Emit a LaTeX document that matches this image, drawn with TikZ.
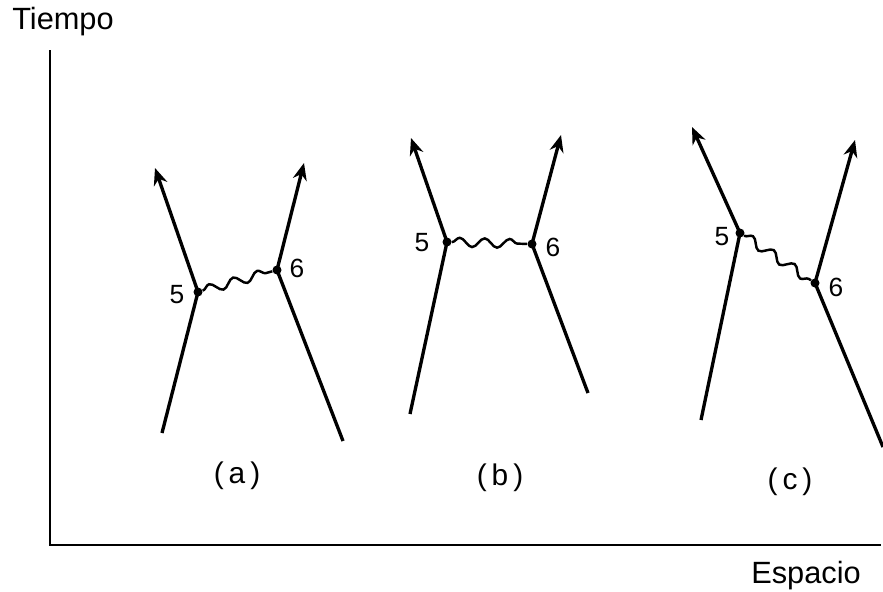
\documentclass[tikz,border=0pt]{standalone}
\usepackage{fontspec}
\setmainfont{Liberation Sans}
\usetikzlibrary{arrows.meta,decorations.pathmorphing}
\tikzset{
  axis/.style={line width=1.6pt},
  worldline/.style={line width=1.9pt},
  photon/.style={line width=1.4pt, decorate,
    decoration={snake, segment length=0.5cm, amplitude=0.09cm}},
  vertex/.style={circle, fill, inner sep=0pt, minimum size=0.18cm},
  num/.style={font=\fontsize{15}{17}\selectfont},
  caption/.style={font=\fontsize{17}{19}\selectfont}
}
\begin{document}
\begin{tikzpicture}[x=0.02cm,y=-0.02cm]
\useasboundingbox (0,0) rectangle (883,592);
% axes
\coordinate (top) at (50,50);
\coordinate (origin) at (50,545);
\coordinate (right) at (881,545);
\draw[axis] (top) -- (origin) -- (right);
\node[font=\fontsize{17.5}{19}\selectfont] (tiempo) at (63,22) {Tiempo};
\node[font=\fontsize{17.5}{19}\selectfont] (espacio) at (806,576) {Espacio};
% (a)
\node[vertex] (a5) at (198,292) {};
\node[vertex] (a6) at (277,270) {};
\coordinate (a5in) at (162,433);
\coordinate (a5out) at (155,168);
\coordinate (a6in) at (343,441);
\coordinate (a6out) at (304,163);
\draw[worldline] (a5in) -- (a5.center);
\draw[worldline,-{Stealth[length=0.34cm,width=0.28cm]}] (a5.center) -- (a5out);
\draw[worldline] (a6in) -- (a6.center);
\draw[worldline,-{Stealth[length=0.34cm,width=0.28cm]}] (a6.center) -- (a6out);
\draw[photon] (a5) -- (a6);
\node[num] (a5lbl) at (177,295) {5};
\node[num] (a6lbl) at (297,268) {6};
\node[caption] (capa) at (237,476) {(\,a\,)};
% (b)
\node[vertex] (b5) at (447,242) {};
\node[vertex] (b6) at (532,244) {};
\coordinate (b5in) at (410,414);
\coordinate (b5out) at (411,138);
\coordinate (b6in) at (588,393);
\coordinate (b6out) at (561,135);
\draw[worldline] (b5in) -- (b5.center);
\draw[worldline,-{Stealth[length=0.34cm,width=0.28cm]}] (b5.center) -- (b5out);
\draw[worldline] (b6in) -- (b6.center);
\draw[worldline,-{Stealth[length=0.34cm,width=0.28cm]}] (b6.center) -- (b6out);
\draw[photon] (b5) -- (b6);
\node[num] (b5lbl) at (422,243) {5};
\node[num] (b6lbl) at (553,247) {6};
\node[caption] (capb) at (500,478) {(\,b\,)};
% (c)
\node[vertex] (c5) at (740,233) {};
\node[vertex] (c6) at (815,283) {};
\coordinate (c5in) at (701,420);
\coordinate (c5out) at (692,127);
\coordinate (c6in) at (883,447);
\coordinate (c6out) at (855,140);
\draw[worldline] (c5in) -- (c5.center);
\draw[worldline,-{Stealth[length=0.34cm,width=0.28cm]}] (c5.center) -- (c5out);
\draw[worldline] (c6in) -- (c6.center);
\draw[worldline,-{Stealth[length=0.34cm,width=0.28cm]}] (c6.center) -- (c6out);
\draw[photon] (c5) -- (c6);
\node[num] (c5lbl) at (722,237) {5};
\node[num] (c6lbl) at (836,287) {6};
\node[caption] (capc) at (790,482) {(\,c\,)};
\end{tikzpicture}
\end{document}
